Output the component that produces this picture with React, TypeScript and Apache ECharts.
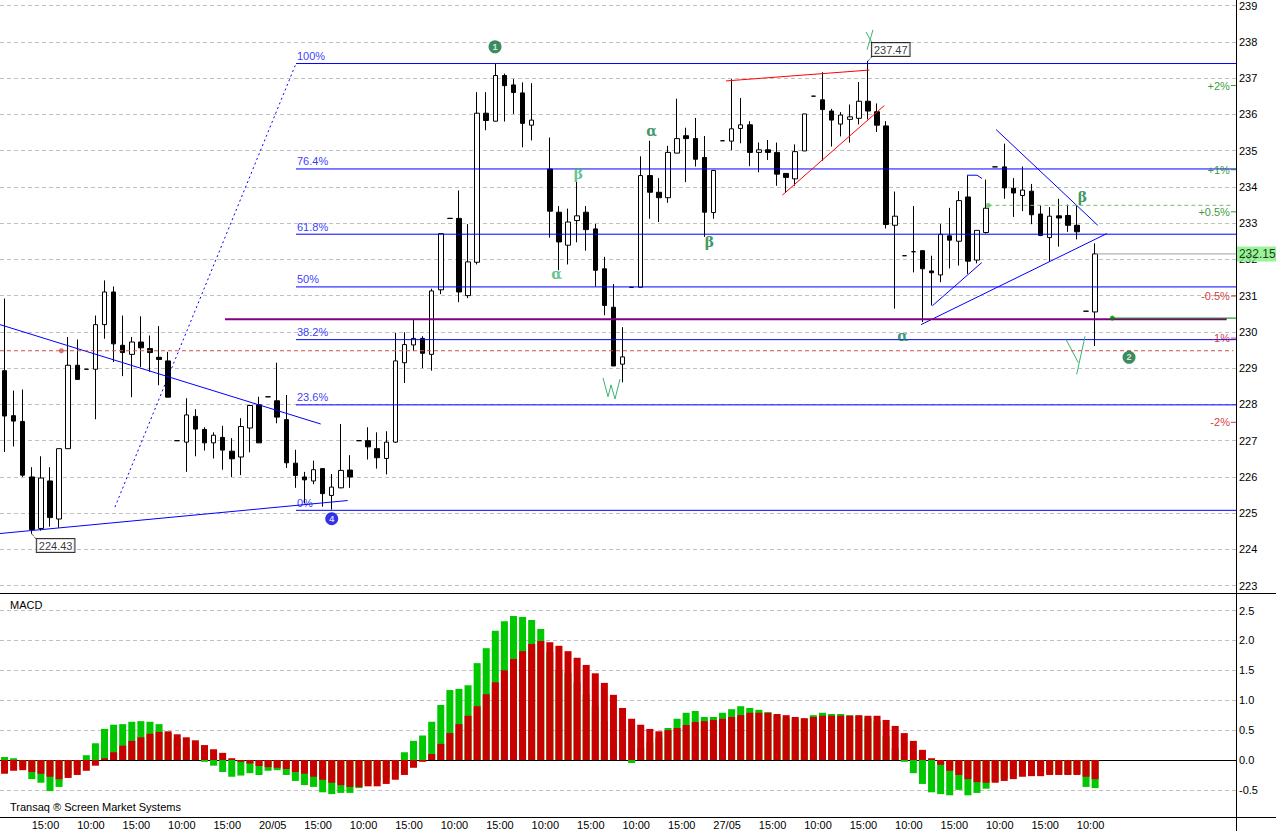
import React, { useEffect, useRef } from 'react';
import * as echarts from 'echarts';

// ---------- hourly candles (index 0 .. 120), null = no trades ----------
const OPEN = [
  228.93, 227.69, 227.53, 226.00, 224.58, 225.89, 224.84, 226.78, 229.08, 228.97,
  228.97, 230.20, 231.10, 229.63, 229.38, 229.72, 229.54, 229.30, 229.20, 227.00,
  226.96, 227.67, 227.31, 226.94, 227.09, 226.71, 226.55, 227.35, 227.99, 228.21,
  228.10, 227.58, 226.38, 226.00, 225.89, 226.23, 225.49, 225.70, 226.19, 227.00,
  227.00, 226.78, 226.51, 226.96, 229.15, 229.64, 229.82, 229.38, 231.16, 233.13,
  233.13, 231.00, 231.92, 236.03, 235.81, 237.07, 236.81, 236.59, 235.70, null,
  234.49, 233.30, 232.39, 233.07, 233.30, 232.84, 231.74, 230.68, 229.11, 231.23,
  231.23, 234.31, 233.85, 233.70, 234.93, 235.41, 235.33, 234.81, 233.29, 235.27,
  235.26, 235.61, 235.71, 234.95, 235.02, 234.95, 234.37, 234.22, 234.99, 236.50,
  236.40, 236.09, 235.73, 235.86, 235.89, 236.36, 236.07, 235.68, 232.94, 232.10,
  232.21, 232.24, 231.68, 231.57, 232.65, 232.50, 233.72, 231.98, 232.74, 234.55,
  234.55, 233.96, 233.76, 233.88, 233.25, 232.60, 233.20, 233.21, 232.94, 230.57,
  230.55,
];
const HIGH = [
  230.92, 228.38, 228.41, 226.27, 226.57, 226.27, 226.78, 229.86, 229.79, 228.97,
  230.45, 231.42, 231.25, 230.45, 229.86, 230.43, 229.90, 230.16, 229.45, 227.00,
  228.17, 227.87, 227.37, 227.23, 227.41, 227.07, 227.62, 227.99, 228.21, 228.21,
  229.15, 228.26, 226.75, 226.14, 226.45, 226.23, 226.08, 227.46, 226.60, 227.00,
  227.37, 227.23, 227.26, 229.97, 229.99, 230.34, 229.88, 231.19, 232.71, 233.13,
  233.90, 232.97, 236.61, 236.61, 237.40, 237.12, 236.97, 236.88, 236.86, null,
  235.36, 233.47, 233.40, 234.14, 233.47, 232.98, 232.07, 231.32, 230.13, 231.23,
  234.84, 235.27, 234.24, 235.13, 236.43, 235.63, 235.90, 235.40, 234.47, 235.27,
  236.97, 236.45, 235.81, 235.22, 235.29, 235.22, 234.37, 235.17, 236.01, 236.50,
  237.16, 236.15, 236.06, 236.27, 236.89, 237.47, 236.30, 235.81, 233.87, 232.10,
  233.47, 232.24, 232.10, 232.97, 233.42, 233.88, 234.31, 232.80, 234.20, 234.55,
  235.19, 234.24, 234.56, 234.08, 233.49, 233.44, 233.67, 233.51, 233.47, 230.57,
  232.44,
];
const LOW = [
  226.69, 226.84, 226.00, 224.43, 224.52, 224.63, 224.60, 226.78, 228.69, 228.97,
  227.59, 229.81, 229.17, 228.78, 228.20, 229.03, 228.90, 228.53, 228.20, 227.00,
  226.14, 226.57, 226.73, 226.51, 226.20, 226.00, 226.05, 226.68, 226.94, 228.21,
  227.48, 226.25, 225.70, 225.28, 225.80, 225.18, 225.10, 225.69, 225.70, 227.00,
  226.48, 226.23, 226.07, 226.94, 228.59, 229.47, 229.00, 228.93, 231.04, 233.13,
  230.82, 230.93, 231.86, 235.56, 235.81, 235.80, 236.01, 235.09, 235.28, null,
  232.60, 231.70, 231.86, 232.47, 232.24, 231.25, 230.46, 229.06, 228.61, 231.23,
  231.23, 233.12, 233.03, 233.56, 234.93, 234.13, 234.56, 232.62, 233.12, 235.27,
  235.01, 235.20, 234.57, 234.40, 234.74, 234.03, 233.85, 234.03, 234.99, 236.50,
  234.72, 235.11, 235.39, 235.22, 235.72, 235.86, 235.51, 232.85, 230.64, 232.10,
  231.64, 230.27, 230.73, 231.37, 231.75, 231.83, 231.60, 231.89, 232.71, 234.55,
  233.67, 233.17, 233.33, 232.97, 232.64, 231.94, 232.35, 232.76, 232.55, 230.57,
  229.61,
];
const CLOSE = [
  227.68, 227.54, 226.05, 224.55, 225.97, 224.88, 226.78, 229.08, 228.69, 228.97,
  230.20, 231.10, 229.67, 229.43, 229.72, 229.56, 229.43, 229.24, 228.20, 227.00,
  227.71, 227.32, 226.94, 227.15, 226.74, 226.50, 227.39, 227.97, 226.94, 228.21,
  227.65, 226.39, 226.04, 225.92, 226.20, 225.54, 225.72, 226.18, 226.00, 227.00,
  226.83, 226.53, 226.96, 229.20, 229.65, 229.82, 229.41, 231.13, 232.71, 233.13,
  231.10, 231.93, 236.03, 235.83, 237.07, 236.79, 236.60, 235.75, 235.84, null,
  233.33, 232.48, 233.03, 233.20, 232.82, 231.70, 230.73, 229.06, 229.31, 231.23,
  234.31, 233.85, 233.70, 234.95, 235.33, 235.33, 234.76, 233.30, 234.45, 235.27,
  235.60, 235.71, 234.95, 235.02, 234.95, 234.35, 234.26, 234.97, 236.01, 236.50,
  236.13, 235.84, 235.98, 235.93, 236.36, 236.09, 235.70, 232.96, 233.19, 232.10,
  232.21, 231.74, 231.63, 232.69, 232.53, 233.62, 231.95, 232.80, 233.41, 234.55,
  233.97, 233.83, 233.91, 233.23, 232.66, 233.19, 233.14, 232.94, 232.76, 230.57,
  232.15,
];

// ---------- MACD panel ----------
const MACD_LINE = [
  0.05, 0.03, -0.10, -0.32, -0.38, -0.52, -0.45, -0.25, -0.12, 0.08,
  0.28, 0.52, 0.59, 0.60, 0.64, 0.65, 0.64, 0.60, 0.45, 0.35,
  0.22, 0.10, -0.03, -0.095, -0.20, -0.28, -0.26, -0.22, -0.25, -0.18,
  -0.17, -0.25, -0.35, -0.42, -0.45, -0.54, -0.57, -0.55, -0.55, -0.47,
  -0.40, -0.35, -0.30, -0.20, 0.13, 0.32, 0.41, 0.64, 0.92, 1.17,
  1.19, 1.25, 1.62, 1.87, 2.16, 2.32, 2.41, 2.39, 2.34, 2.19,
  1.80, 1.50, 1.45, 1.30, 1.10, 0.90, 0.65, 0.30, 0.10, -0.05,
  0.20, 0.30, 0.38, 0.535, 0.69, 0.79, 0.82, 0.72, 0.72, 0.79,
  0.85, 0.90, 0.87, 0.84, 0.80, 0.74, 0.70, 0.68, 0.68, 0.75,
  0.79, 0.77, 0.77, 0.75, 0.73, 0.70, 0.65, 0.40, 0.20, -0.03,
  -0.22, -0.40, -0.54, -0.57, -0.59, -0.50, -0.59, -0.55, -0.48, -0.35,
  -0.30, -0.27, -0.22, -0.24, -0.22, -0.23, -0.24, -0.24, -0.23, -0.45,
  -0.47,
];
const SIGNAL_LINE = [
  -0.23, -0.18, -0.17, -0.20, -0.23, -0.28, -0.32, -0.30, -0.25, -0.18,
  -0.095, 0.03, 0.13, 0.24, 0.32, 0.38, 0.44, 0.47, 0.48, 0.43,
  0.38, 0.33, 0.25, 0.18, 0.12, 0.03, -0.03, -0.06, -0.10, -0.12,
  -0.13, -0.15, -0.20, -0.23, -0.28, -0.33, -0.38, -0.42, -0.45, -0.45,
  -0.44, -0.44, -0.40, -0.33, -0.25, -0.13, -0.03, 0.10, 0.27, 0.45,
  0.60, 0.74, 0.90, 1.10, 1.30, 1.50, 1.69, 1.82, 1.94, 1.99,
  1.97, 1.91, 1.82, 1.71, 1.59, 1.45, 1.29, 1.09, 0.87, 0.69,
  0.59, 0.52, 0.48, 0.50, 0.535, 0.585, 0.635, 0.65, 0.67, 0.69,
  0.72, 0.75, 0.79, 0.79, 0.79, 0.77, 0.75, 0.72, 0.70, 0.72,
  0.74, 0.74, 0.74, 0.74, 0.75, 0.74, 0.74, 0.67, 0.57, 0.45,
  0.32, 0.17, 0.03, -0.08, -0.18, -0.25, -0.32, -0.37, -0.38, -0.38,
  -0.35, -0.32, -0.28, -0.27, -0.27, -0.25, -0.25, -0.25, -0.25, -0.28,
  -0.32,
];

// ---------- axes ----------
const SLOT_COUNT = 136;
const TIME_LABELS = [
  '15:00', '10:00', '15:00', '10:00', '15:00', '20/05', '15:00', '10:00',
  '15:00', '10:00', '15:00', '10:00', '15:00', '10:00', '15:00', '27/05',
  '15:00', '10:00', '15:00', '10:00', '15:00', '10:00', '15:00', '10:00',
];
const PRICE_MIN = 222.8;
const PRICE_MAX = 239.07;
const MACD_MIN = -0.953;
const MACD_MAX = 2.793;

// ---------- drawings (slot index, price) ----------
const FIB_LOW = 225.08;
const FIB_HIGH = 237.4;
const FIB_START = 32.07;
const FIB_LEVELS = [0, 23.6, 38.2, 50, 61.8, 76.4, 100];
const FIB_SWING = [[12.15, 225.17], [32.07, 237.4]];
const BLUE_TRENDS = [
  [[-0.5, 230.2], [34.79, 227.46]],
  [[-0.5, 224.44], [37.76, 225.35]],
  [[109.1, 235.58], [120.29, 232.94]],
  [[100.84, 230.2], [121.28, 232.71]],
  [[102.09, 230.72], [107.52, 231.91]],
  [[105.9, 234.32], [107.0, 234.32], [107.55, 234.23]],
];
const RED_TRENDS = [
  [[79.39, 236.92], [95.16, 237.22]],
  [[85.58, 233.77], [96.8, 236.24]],
];
const GREEN_SKETCHES = [
  [[94.79, 238.27], [95.89, 237.78]],
  [[95.56, 238.33], [94.9, 237.78]],
  [[65.85, 228.73], [66.4, 228.21], [66.73, 228.54], [67.17, 228.15], [67.72, 228.7]],
  [[116.8, 229.79], [118.15, 229.15]],
  [[118.89, 229.88], [117.97, 228.83]],
];
const SUPPORT_LEVEL = 230.35;
const SUPPORT_RANGE = [24.26, 134.48];
const RED_DASH_LEVEL = 229.48;
const RED_DOT_X = 6.25;
const GREEN_DASH_LEVEL = 233.49;
const GREEN_DASH_START = 108.25;
const GREEN_LEVEL = 230.38;
const GREEN_START = 121.89;
const PCT_LEVELS = [2, 1, 0.5, -0.5, -1, -2];
const MARKERS = [
  { text: '1', x: 53.97, y: 237.86, color: '#0b6e3a' },
  { text: '2', x: 123.73, y: 229.3, color: '#0b6e3a' },
  { text: '4', x: 36.0, y: 224.85, color: '#0000e0' },
];
const GREEK = [
  { text: 'α', x: 71.21, y: 235.53, color: '#0a7d3c' },
  { text: 'α', x: 60.76, y: 231.6, color: '#3cb371' },
  { text: 'α', x: 98.83, y: 229.88, color: '#0a7d5a' },
  { text: 'β', x: 63.13, y: 234.36, color: '#3cb371' },
  { text: 'β', x: 77.55, y: 232.49, color: '#0a7d3c' },
  { text: 'β', x: 118.59, y: 233.72, color: '#0a7d3c' },
];

const FONT = '"Liberation Sans", Arial, sans-serif';
const X_END = SLOT_COUNT - 0.5;

function buildOption() {
  const slots = Array.from({ length: SLOT_COUNT }, (_, i) => String(i));
  const candles = OPEN.map((o, i) =>
    o == null ? ['-', '-', '-', '-'] : [o, CLOSE[i], LOW[i], HIGH[i]]
  );
  const last = CLOSE.length - 1;
  const lastPrice = CLOSE[last] as number;
  const hiIdx = 95;
  const loIdx = 3;

  const fibPrice = (p: number) => FIB_LOW + (FIB_HIGH - FIB_LOW) * p / 100;

  const lineItems: any[] = [];
  FIB_LEVELS.forEach((p) => {
    const v = fibPrice(p);
    lineItems.push({ coords: [[FIB_START, v], [X_END, v]], lineStyle: { color: '#0000ff', width: 1 } });
  });
  lineItems.push({ coords: FIB_SWING, lineStyle: { color: '#0000ff', width: 1, type: [2, 3] } });
  BLUE_TRENDS.forEach((c) => lineItems.push({ coords: c, lineStyle: { color: '#0000ff', width: 1 } }));
  RED_TRENDS.forEach((c) => lineItems.push({ coords: c, lineStyle: { color: '#ff0000', width: 1 } }));
  GREEN_SKETCHES.forEach((c) => lineItems.push({ coords: c, lineStyle: { color: '#3cb371', width: 1 } }));
  lineItems.push({ coords: [[-0.5, RED_DASH_LEVEL], [X_END - 0.3, RED_DASH_LEVEL]], lineStyle: { color: '#d05050', width: 1, type: [4, 3] } });
  lineItems.push({ coords: [[GREEN_DASH_START, GREEN_DASH_LEVEL], [X_END - 0.3, GREEN_DASH_LEVEL]], lineStyle: { color: '#70c070', width: 1, type: [4, 3] } });
  lineItems.push({ coords: [[SUPPORT_RANGE[0], SUPPORT_LEVEL], [SUPPORT_RANGE[1], SUPPORT_LEVEL]], lineStyle: { color: '#800080', width: 2 } });
  lineItems.push({ coords: [[GREEN_START, GREEN_LEVEL], [X_END, GREEN_LEVEL]], lineStyle: { color: '#008000', width: 1 } });
  lineItems.push({ coords: [[last + 0.06, lastPrice], [X_END, lastPrice]], lineStyle: { color: '#a0a0a0', width: 1 } });
  lineItems.push({ coords: [[hiIdx, HIGH[hiIdx]], [hiIdx + 0.52, (HIGH[hiIdx] as number) + 0.14]], lineStyle: { color: '#000', width: 1, type: [1, 1] } });
  lineItems.push({ coords: [[loIdx, LOW[loIdx]], [loIdx + 0.57, (LOW[loIdx] as number) - 0.17]], lineStyle: { color: '#000', width: 1, type: [1, 1] } });

  const txt = (extra: any) => ({ show: true, position: 'inside', fontFamily: FONT, ...extra });

  const fibLabels = FIB_LEVELS.map((p) => ({
    value: [FIB_START, fibPrice(p)],
    label: txt({ formatter: (p === 0 || p === 50 || p === 100 ? String(p) : p.toFixed(1)) + '%', align: 'left', verticalAlign: 'bottom', offset: [1, -2], color: '#0000ff', fontSize: 11 }),
  }));

  const greekLabels = GREEK.map((g) => ({
    value: [g.x, g.y],
    label: txt({ formatter: g.text, color: g.color, fontSize: 14, fontWeight: 'bold', fontFamily: '"DejaVu Serif", serif' }),
  }));

  const pctLabels = PCT_LEVELS.map((p) => ({
    value: [X_END - 0.01, lastPrice * (1 + p / 100)],
    label: txt({ formatter: (p > 0 ? '+' : '') + p + '%', align: 'right', verticalAlign: 'middle', offset: [-6, 0], color: p > 0 ? '#008000' : '#cc0000', fontSize: 11 }),
  }));
  const pctTicks = PCT_LEVELS.map((p) => ({
    value: [X_END - 0.01, lastPrice * (1 + p / 100)],
    itemStyle: { color: p > 0 ? '#008000' : '#cc0000' },
  }));

  const boxStyle = { backgroundColor: '#ffffff', borderColor: '#000', borderWidth: 1, padding: [2, 2, 0, 2], color: '#000', fontSize: 11 };
  const priceBoxes = [
    { value: [hiIdx, HIGH[hiIdx]], label: txt({ ...boxStyle, formatter: (HIGH[hiIdx] as number).toFixed(2), align: 'left', verticalAlign: 'bottom', offset: [4, -5] }) },
    { value: [loIdx, LOW[loIdx]], label: txt({ ...boxStyle, formatter: (LOW[loIdx] as number).toFixed(2), align: 'left', verticalAlign: 'top', offset: [5, 5] }) },
    { value: [X_END - 0.01, lastPrice], label: txt({ formatter: lastPrice.toFixed(2), align: 'left', verticalAlign: 'middle', offset: [1, 0], backgroundColor: '#80f080', padding: [2, 3, 1, 2], color: '#000', fontSize: 12 }) },
  ];

  const dots = [
    { value: [RED_DOT_X, RED_DASH_LEVEL], itemStyle: { color: '#d05050' } },
    { value: [GREEN_DASH_START, GREEN_DASH_LEVEL], itemStyle: { color: '#60c060' } },
    { value: [GREEN_START, GREEN_LEVEL], itemStyle: { color: '#008000' } },
  ];

  const markers = MARKERS.map((m) => ({
    value: [m.x, m.y],
    itemStyle: { color: m.color },
    label: txt({ formatter: m.text, color: '#fff', fontSize: 9, fontWeight: 'bold' }),
  }));

  const hiddenSym = { symbol: 'circle', symbolSize: 1, itemStyle: { color: 'rgba(0,0,0,0)' } };
  const onPrice = { xAxisIndex: 2, yAxisIndex: 0, silent: true, z: 5 };

  return {
    animation: false,
    backgroundColor: '#ffffff',
    textStyle: { fontFamily: FONT },
    grid: [
      { left: 0, top: 0, width: 1236, height: 593 },
      { left: 0, top: 593, width: 1236, height: 224 },
    ],
    xAxis: [
      { type: 'category', gridIndex: 0, data: slots, show: false },
      {
        type: 'category', gridIndex: 1, data: slots,
        axisLine: { show: true, lineStyle: { color: '#000' } },
        axisTick: { show: false },
        splitLine: { show: false },
        axisLabel: {
          interval: 0, margin: 2, color: '#000', fontSize: 11, fontFamily: FONT,
          padding: [0, 9, 0, 0],
          formatter: (_v: string, i: number) =>
            i % 5 === 0 && i >= 5 && i / 5 - 1 < TIME_LABELS.length ? TIME_LABELS[i / 5 - 1] : '',
        },
      },
      { type: 'value', gridIndex: 0, min: -0.5, max: X_END, show: false },
    ],
    yAxis: [
      {
        type: 'value', gridIndex: 0, position: 'right', min: PRICE_MIN, max: PRICE_MAX,
        splitNumber: 16, minInterval: 1, maxInterval: 1,
        axisLine: { show: false }, axisTick: { show: false },
        axisLabel: {
          margin: 3, color: '#000', fontSize: 11, fontFamily: FONT,
          formatter: (v: number) => (Math.abs(v - Math.round(v)) < 1e-6 ? String(Math.round(v)) : ''),
        },
        splitLine: { show: true, showMinLine: false, showMaxLine: false, lineStyle: { color: '#c0c0c0', type: [4, 3] } },
      },
      {
        type: 'value', gridIndex: 1, position: 'right', min: MACD_MIN, max: MACD_MAX,
        splitNumber: 7, minInterval: 0.5, maxInterval: 0.5,
        axisLine: { show: false }, axisTick: { show: false },
        axisLabel: {
          margin: 3, color: '#000', fontSize: 11, fontFamily: FONT,
          formatter: (v: number) => (Math.abs(v * 2 - Math.round(v * 2)) < 1e-6 ? v.toFixed(1) : ''),
        },
        splitLine: { show: true, showMinLine: false, showMaxLine: false, lineStyle: { color: '#c0c0c0', type: [4, 3] } },
      },
    ],
    series: [
      {
        type: 'candlestick', xAxisIndex: 0, yAxisIndex: 0, data: candles, barWidth: 5,
        itemStyle: {
          color: '#ffffff', color0: '#000000', borderColor: '#000000', borderColor0: '#000000',
          borderColorDoji: '#000000', borderWidth: 1,
        },
        silent: true, z: 2,
      },
      {
        type: 'bar', xAxisIndex: 1, yAxisIndex: 1, data: MACD_LINE, barWidth: 7, barGap: '-100%',
        itemStyle: { color: '#00c800' }, silent: true,
      },
      {
        type: 'bar', xAxisIndex: 1, yAxisIndex: 1, data: SIGNAL_LINE, barWidth: 7, barGap: '-100%',
        itemStyle: { color: '#c80000' }, silent: true,
      },
      {
        type: 'lines', coordinateSystem: 'cartesian2d', ...onPrice, polyline: true,
        lineStyle: { opacity: 1, width: 1 }, data: lineItems,
      },
      { type: 'scatter', ...onPrice, ...hiddenSym, data: fibLabels, z: 6 },
      { type: 'scatter', ...onPrice, ...hiddenSym, data: greekLabels, z: 6 },
      { type: 'scatter', ...onPrice, ...hiddenSym, data: pctLabels, z: 6 },
      { type: 'scatter', ...onPrice, symbol: 'rect', symbolSize: [5, 1], symbolOffset: [-2.5, 0], data: pctTicks, z: 6 },
      { type: 'scatter', ...onPrice, ...hiddenSym, data: priceBoxes, z: 7 },
      { type: 'scatter', ...onPrice, symbol: 'circle', symbolSize: 5, data: dots, z: 6 },
      { type: 'scatter', ...onPrice, symbol: 'circle', symbolSize: 13, data: markers, z: 6 },
    ],
    graphic: [
      { type: 'line', shape: { x1: 0, y1: 593.5, x2: 1276, y2: 593.5 }, style: { stroke: '#000', lineWidth: 1 }, z: 100 },
      { type: 'line', shape: { x1: 0, y1: 817.5, x2: 1276, y2: 817.5 }, style: { stroke: '#000', lineWidth: 1 }, z: 100 },
      { type: 'line', shape: { x1: 1236.5, y1: 0, x2: 1236.5, y2: 831 }, style: { stroke: '#000', lineWidth: 1 }, z: 100 },
      { type: 'text', left: 10, top: 599, style: { text: 'MACD', fill: '#000', fontSize: 11, fontFamily: FONT }, z: 100 },
      { type: 'text', left: 10, top: 801, style: { text: 'Transaq ® Screen Market Systems', fill: '#000', fontSize: 11, fontFamily: FONT }, z: 100 },
    ],
  };
}

export default function App() {
  const ref = useRef<HTMLDivElement>(null);
  useEffect(() => {
    if (!ref.current) return;
    const chart = echarts.init(ref.current, null, { renderer: 'svg' });
    chart.setOption(buildOption() as any);
    return () => chart.dispose();
  }, []);
  return (
    <div
      ref={ref}
      style={{ position: 'absolute', left: 0, top: 0, width: 1276, height: 831, background: '#ffffff' }}
    />
  );
}
